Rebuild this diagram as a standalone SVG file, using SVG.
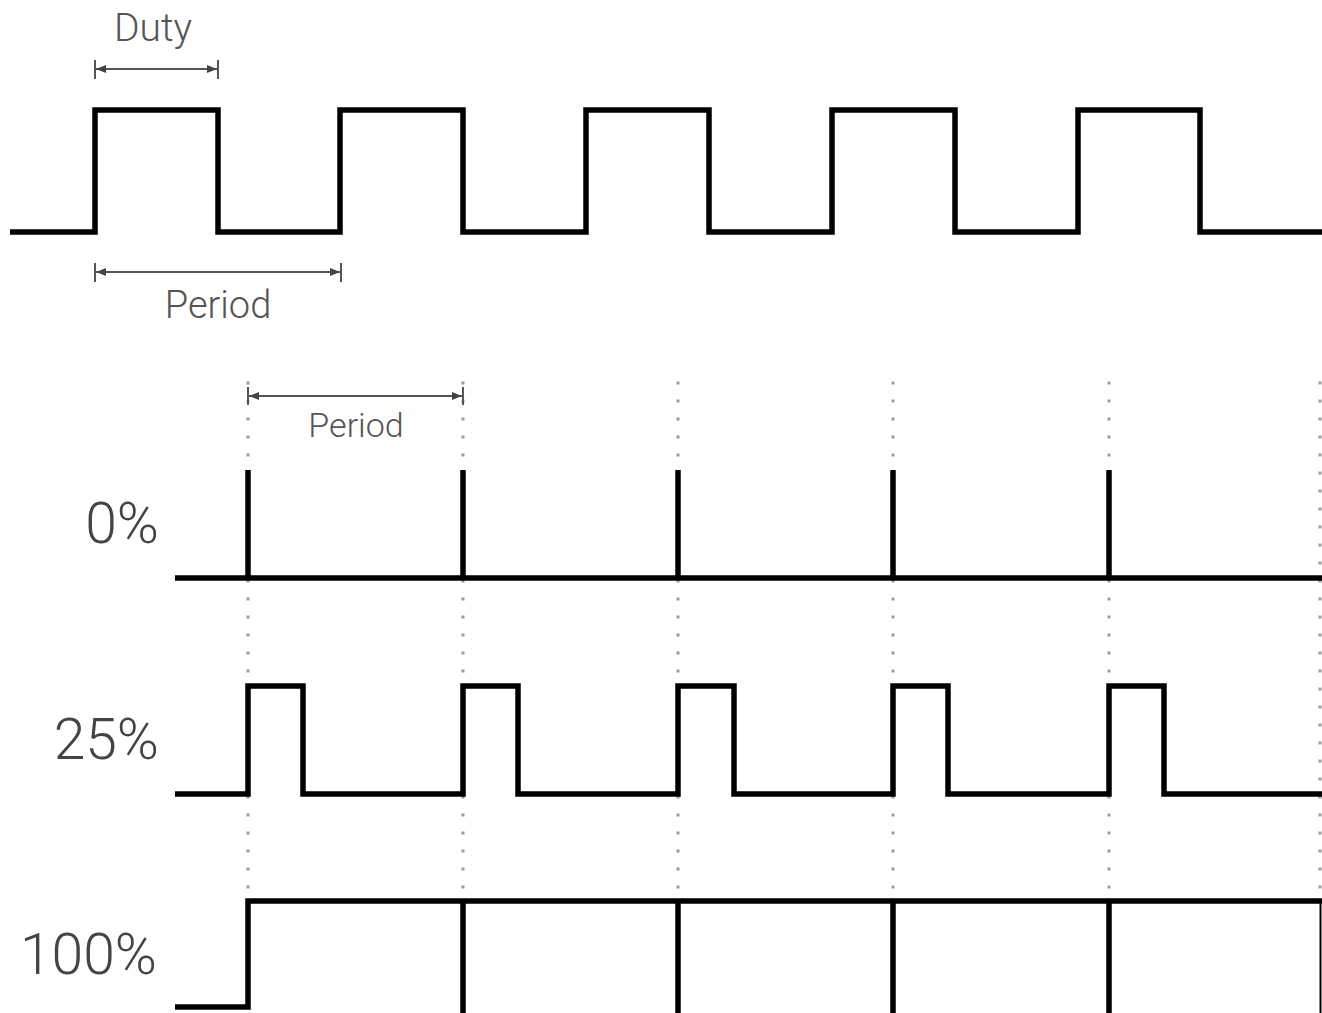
<svg xmlns="http://www.w3.org/2000/svg" width="1322" height="1013" viewBox="0 0 1322 1013">
<style>
.wave{fill:none;stroke:#000;stroke-width:5.5;stroke-linejoin:miter;stroke-linecap:butt}
.dim{fill:none;stroke:#555;stroke-width:2}
.dot{fill:none;stroke:#999;stroke-width:3;stroke-dasharray:3 15}
.lbl{font-family:Roboto,"Liberation Sans",sans-serif;font-weight:300;fill:#555}
.pct{font-family:Roboto,"Liberation Sans",sans-serif;font-weight:300;fill:#444;font-size:57px;text-anchor:end}
</style>
<defs>
<marker id="ah" viewBox="0 0 10 10" refX="10" refY="5" markerWidth="10" markerHeight="8" orient="auto-start-reverse" markerUnits="userSpaceOnUse" preserveAspectRatio="none">
<path d="M0,0 L10,5 L0,10 z" fill="#444"/>
</marker>
</defs>
<rect width="1322" height="1013" fill="#fff"/>
<g id="guides">
<line class="dot" x1="248" y1="381.5" x2="248" y2="895"/>
<line class="dot" x1="463" y1="381.5" x2="463" y2="895"/>
<line class="dot" x1="678" y1="381.5" x2="678" y2="895"/>
<line class="dot" x1="893" y1="381.5" x2="893" y2="895"/>
<line class="dot" x1="1109" y1="381.5" x2="1109" y2="895"/>
<line class="dot" x1="1320" y1="381.5" x2="1320" y2="895"/>
</g>
<g id="top-wave">
<path class="wave" d="M10,232 H95 V110 H218 V232 H340 V110 H463 V232 H586 V110 H709 V232 H832 V110 H955 V232 H1078 V110 H1200 V232 H1322"/>
</g>
<g id="duty-dim">
<line class="dim" x1="96" y1="69" x2="217" y2="69" marker-start="url(#ah)" marker-end="url(#ah)"/>
<line class="dim" x1="95" y1="60" x2="95" y2="79"/>
<line class="dim" x1="218" y1="60" x2="218" y2="79"/>
<text class="lbl" x="153" y="41" font-size="39" text-anchor="middle">Duty</text>
</g>
<g id="period-dim-1">
<line class="dim" x1="96" y1="272" x2="340" y2="272" marker-start="url(#ah)" marker-end="url(#ah)"/>
<line class="dim" x1="95" y1="263" x2="95" y2="282"/>
<line class="dim" x1="341" y1="263" x2="341" y2="282"/>
<text class="lbl" x="218" y="318" font-size="38" text-anchor="middle">Period</text>
</g>
<g id="period-dim-2">
<line class="dim" x1="249" y1="396" x2="462" y2="396" marker-start="url(#ah)" marker-end="url(#ah)"/>
<line class="dim" x1="248" y1="387" x2="248" y2="405"/>
<line class="dim" x1="463" y1="387" x2="463" y2="405"/>
<text class="lbl" x="356" y="437" font-size="34" text-anchor="middle">Period</text>
</g>
<g id="wave-0">
<text class="pct" x="159" y="543">0%</text>
<path class="wave" d="M175,578 H1322 M248,470 V578 M463,470 V578 M678,470 V578 M893,470 V578 M1109,470 V578"/>
</g>
<g id="wave-25">
<text class="pct" x="159" y="759">25%</text>
<path class="wave" d="M175,794 H248 V686 H303 V794 H463 V686 H518 V794 H678 V686 H734 V794 H893 V686 H948 V794 H1109 V686 H1164 V794 H1322"/>
</g>
<g id="wave-100">
<text class="pct" x="157" y="974">100%</text>
<path class="wave" d="M175,1007 H248 V901 H1322 M463,901 V1013 M678,901 V1013 M893,901 V1013 M1109,901 V1013"/>
<line x1="1320.5" y1="901" x2="1320.5" y2="1013" stroke="#000" stroke-width="2"/>
</g>
</svg>
